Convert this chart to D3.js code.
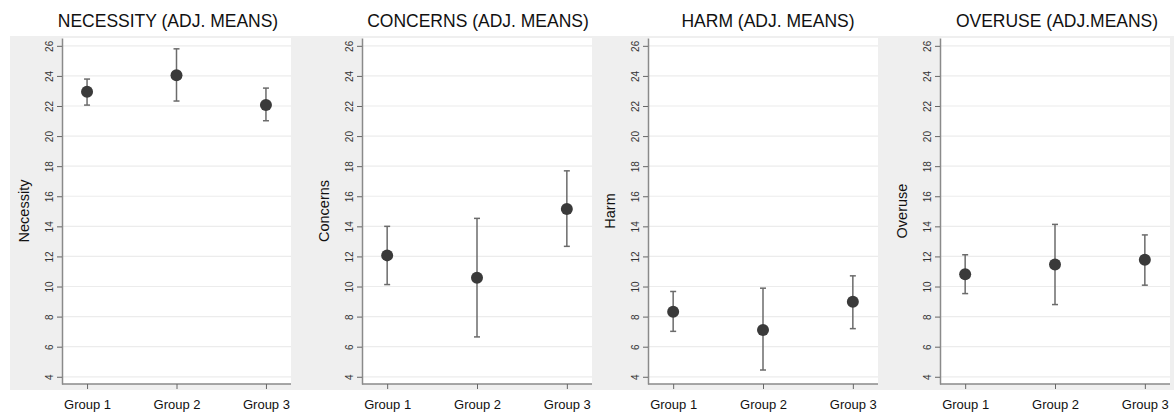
<!DOCTYPE html>
<html>
<head>
<meta charset="utf-8">
<script src="https://d3js.org/d3.v7.min.js"></script>
<style>
  body { margin: 0; background: #fff; }
  text { font-family: "Liberation Sans", Arial, sans-serif; }
</style>
</head>
<body>
<script>
// groups and tick labels
var groups = ["Group 1", "Group 2", "Group 3"];
var yTicks = [4, 6, 8, 10, 12, 14, 16, 18, 20, 22, 24, 26];

var titles = ["NECESSITY (ADJ. MEANS)", "CONCERNS (ADJ. MEANS)", "HARM (ADJ. MEANS)", "OVERUSE (ADJ.MEANS)"];
var yTitles = ["Necessity", "Concerns", "Harm", "Overuse"];

// adjusted means with lower / upper CI
var necessityMean = [22.94, 24.05, 22.06];
var necessityLo   = [22.06, 22.33, 21.02];
var necessityHi   = [23.79, 25.80, 23.19];

var concernsMean = [12.07, 10.58, 15.16];
var concernsLo   = [10.13, 6.65, 12.67];
var concernsHi   = [14.00, 14.53, 17.69];

var harmMean = [8.33, 7.11, 8.98];
var harmLo   = [7.02, 4.45, 7.20];
var harmHi   = [9.67, 9.89, 10.71];

var overuseMean = [10.82, 11.47, 11.78];
var overuseLo   = [9.53, 8.80, 10.09];
var overuseHi   = [12.11, 14.13, 13.43];

var panels = [
  {mean: necessityMean, lo: necessityLo, hi: necessityHi},
  {mean: concernsMean, lo: concernsLo, hi: concernsHi},
  {mean: harmMean, lo: harmLo, hi: harmHi},
  {mean: overuseMean, lo: overuseLo, hi: overuseHi}
];

// layout
var W = 1174, H = 412;
var axisX  = [62, 362, 648, 940];
var rightX = [291, 592, 878, 1170];
var titleX = [168, 478, 768, 1057];
var plotTop = 38, plotBottom = 384;

var svg = d3.select("body").append("svg")
    .attr("width", W)
    .attr("height", H);

svg.append("rect")
    .attr("x", 10).attr("y", 36)
    .attr("width", W - 10).attr("height", 354)
    .attr("fill", "#efefef");

var y = d3.scaleLinear().domain([3.52, 26.52]).range([plotBottom, plotTop]);

panels.forEach(function (p, i) {
  var x0 = axisX[i], x1 = rightX[i];
  var x = d3.scalePoint().domain(groups).range([x0, x1]).padding(0.28);
  var g = svg.append("g");

  // plot area
  g.append("rect")
      .attr("x", x0).attr("y", plotTop)
      .attr("width", x1 - x0).attr("height", plotBottom - plotTop)
      .attr("fill", "#ffffff");

  // grid
  g.selectAll(".grid").data(yTicks).enter().append("line")
      .attr("x1", x0).attr("x2", x1)
      .attr("y1", function (d) { return y(d); })
      .attr("y2", function (d) { return y(d); })
      .attr("stroke", "#ececec")
      .attr("stroke-width", 1.2);

  // y axis
  var ya = g.append("g")
      .attr("transform", "translate(" + x0 + ",0)")
      .call(d3.axisLeft(y).tickValues(yTicks).tickSize(5).tickSizeOuter(0));
  ya.select(".domain").attr("stroke", "#8a8a8a").attr("stroke-width", 1.5);
  ya.selectAll(".tick line").attr("stroke", "#666");
  ya.selectAll(".tick text")
      .attr("x", 0).attr("y", 0).attr("dy", null)
      .attr("transform", "translate(-9.5,0) rotate(-90)")
      .attr("text-anchor", "middle")
      .attr("font-size", 10)
      .attr("font-family", "Liberation Sans, Arial, sans-serif")
      .attr("fill", "#333");

  // x axis
  var xa = g.append("g")
      .attr("transform", "translate(0," + plotBottom + ")")
      .call(d3.axisBottom(x).tickSize(5).tickSizeOuter(0));
  xa.select(".domain").attr("stroke", "#8a8a8a").attr("stroke-width", 1.5)
      .attr("d", "M" + x0 + ",0H" + x1);
  xa.selectAll(".tick line").attr("stroke", "#666");
  xa.selectAll(".tick text")
      .attr("y", 25).attr("dy", null)
      .attr("font-size", 13)
      .attr("font-family", "Liberation Sans, Arial, sans-serif")
      .attr("fill", "#111");

  // titles
  svg.append("text")
      .attr("x", titleX[i]).attr("y", 27)
      .attr("text-anchor", "middle")
      .attr("font-size", 17.5)
      .attr("fill", "#111")
      .text(titles[i]);

  svg.append("text")
      .attr("transform", "translate(" + (x0 - 33) + "," + ((plotTop + plotBottom) / 2) + ") rotate(-90)")
      .attr("text-anchor", "middle")
      .attr("font-size", 14.5)
      .attr("fill", "#111")
      .text(yTitles[i]);

  // error bars
  var idx = [0, 1, 2];
  g.selectAll(".bar").data(idx).enter().append("line")
      .attr("x1", function (k) { return x(groups[k]); })
      .attr("x2", function (k) { return x(groups[k]); })
      .attr("y1", function (k) { return y(p.lo[k]); })
      .attr("y2", function (k) { return y(p.hi[k]); })
      .attr("stroke", "#6b6b6b").attr("stroke-width", 1.5);
  [p.lo, p.hi].forEach(function (arr) {
    g.selectAll(null).data(idx).enter().append("line")
        .attr("x1", function (k) { return x(groups[k]) - 3; })
        .attr("x2", function (k) { return x(groups[k]) + 3; })
        .attr("y1", function (k) { return y(arr[k]); })
        .attr("y2", function (k) { return y(arr[k]); })
        .attr("stroke", "#6b6b6b").attr("stroke-width", 1.5);
  });

  g.selectAll(".dot").data(idx).enter().append("circle")
      .attr("cx", function (k) { return x(groups[k]); })
      .attr("cy", function (k) { return y(p.mean[k]); })
      .attr("r", 6)
      .attr("fill", "#3a3a3a");
});
</script>
</body>
</html>
